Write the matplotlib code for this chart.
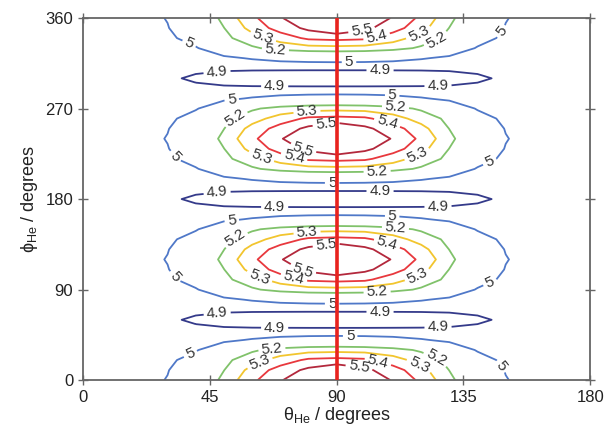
import matplotlib
matplotlib.use("Agg")
import matplotlib.pyplot as plt
import numpy as np

plt.rcParams['font.family'] = ['Liberation Sans', 'DejaVu Sans']
plt.rcParams['mathtext.fontset'] = 'custom'
plt.rcParams['mathtext.rm'] = 'Liberation Sans'
plt.rcParams['mathtext.it'] = 'Liberation Sans'

# values, theta = 0..90 (step 10),
# one row per phi distance from a maximum (0, 10, ..., 60 degrees)
theta_half = [0, 10, 20, 30, 40, 50, 60, 70, 80, 90]
row_d0 = [4.955, 4.957, 4.962, 5.005, 5.09, 5.229, 5.378, 5.49, 5.60, 5.63]
row_d10 = [4.955, 4.956, 4.96, 4.995, 5.085, 5.198, 5.336, 5.444, 5.524, 5.59]
row_d20 = [4.955, 4.955, 4.958, 4.975, 5.05, 5.175, 5.258, 5.345, 5.42, 5.433]
row_d30 = [4.955, 4.955, 4.956, 4.968, 4.99, 5.09, 5.185, 5.235, 5.26, 5.267]
row_d40 = [4.955, 4.953, 4.95, 4.948, 4.955, 4.975, 5.01, 5.04, 5.055, 5.06]
row_d50 = [4.955, 4.952, 4.945, 4.93, 4.92, 4.912, 4.91, 4.91, 4.91, 4.91]
row_d60 = [4.955, 4.952, 4.94, 4.915, 4.885, 4.87, 4.865, 4.862, 4.86, 4.86]

levels = [4.9, 5.0, 5.2, 5.3, 5.4, 5.5]
colors = ['#343a8a', '#4f78c8', '#80c26a', '#f2c52e', '#e8383d', '#b3283c']

# label spots (theta, phi) per level
label_spots = {
    4.9: [(47.6, 305), (68, 288.5), (105.4, 305), (126, 289), (47.6, 186), (68, 170),
          (105.4, 186), (126, 170), (47.6, 66.6), (68, 50.7), (105.4, 66.6), (126, 50.7)],
    5.0: [(36.9, 330), (148.8, 346), (94.4, 311), (52.9, 275.5), (109.7, 281.4),
          (32.0, 220.8), (144.5, 215.8), (88.4, 193), (52.9, 156.1), (109.7, 162.1),
          (32.0, 101.4), (144.5, 96.5), (88.4, 74.6), (94.8, 44.7), (38.0, 26.8), (148.0, 12.9)],
    5.2: [(68.2, 326.2), (125.7, 336.1), (54.7, 255.6), (110.8, 268.5), (104.4, 205.8),
          (54.7, 136.2), (110.8, 149.2), (104.4, 85.5), (67.1, 28.8), (125.0, 19.9)],
    5.3: [(63.5, 338.1), (119.6, 341.1), (79.5, 266.5), (62.8, 218.8), (118.9, 221.8),
          (79.5, 147.2), (62.1, 99.4), (118.9, 102.4), (62.5, 18.9), (119.6, 16.9)],
    5.4: [(104.7, 336.1), (107.9, 255.6), (74.6, 218.8), (107.9, 136.2), (74.6, 99.4),
          (104.7, 18.9)],
    5.5: [(99.1, 343.1), (86.3, 253.6), (77.8, 226.7), (86.3, 134.2), (77.8, 107.4),
          (98.0, 13.9)],
}

quarter = np.array([row_d0, row_d10, row_d20, row_d30, row_d40, row_d50, row_d60])
period = np.vstack([quarter, quarter[-2::-1]])          # phi 0..120
half = np.vstack([period[:-1]] * 3 + [period[-1:]])     # phi 0..360
z = np.hstack([half, half[:, -2::-1]])                   # theta 0..180
theta = np.concatenate([theta_half, 180 - np.array(theta_half[-2::-1])])
phi = np.arange(0, 361, 10)

fig = plt.figure(figsize=(6.06, 4.38), dpi=100)
ax = fig.add_axes([0.137, 0.132, 0.837, 0.827])

for lev, col in zip(levels, colors):
    cs = ax.contour(theta, phi, z, levels=[lev], colors=[col], linewidths=1.3)
    ax.clabel(cs, manual=label_spots[lev], inline=True, inline_spacing=3,
              fontsize=11, fmt=lambda v: f'{v:g}', colors='#333333')

ax.axvline(90, color='#e8231e', lw=2.6, zorder=5)

ax.set_xlim(0, 180)
ax.set_ylim(0, 360)
ax.set_xticks([0, 45, 90, 135, 180])
ax.set_yticks([0, 90, 180, 270, 360])
ax.tick_params(direction='inout', length=7, width=1, top=True, right=True,
               labelsize=12, colors='#666666', labelcolor='#222222')
for s in ax.spines.values():
    s.set_color('#666666')
    s.set_linewidth(1.3)

ax.set_xlabel('θ$_{\\mathrm{He}}$ / degrees', fontsize=13, color='#222222', labelpad=0)
ax.set_ylabel('ϕ$_{\\mathrm{He}}$ / degrees', fontsize=13, color='#222222', labelpad=4)

fig.savefig('out.png', dpi=100)
